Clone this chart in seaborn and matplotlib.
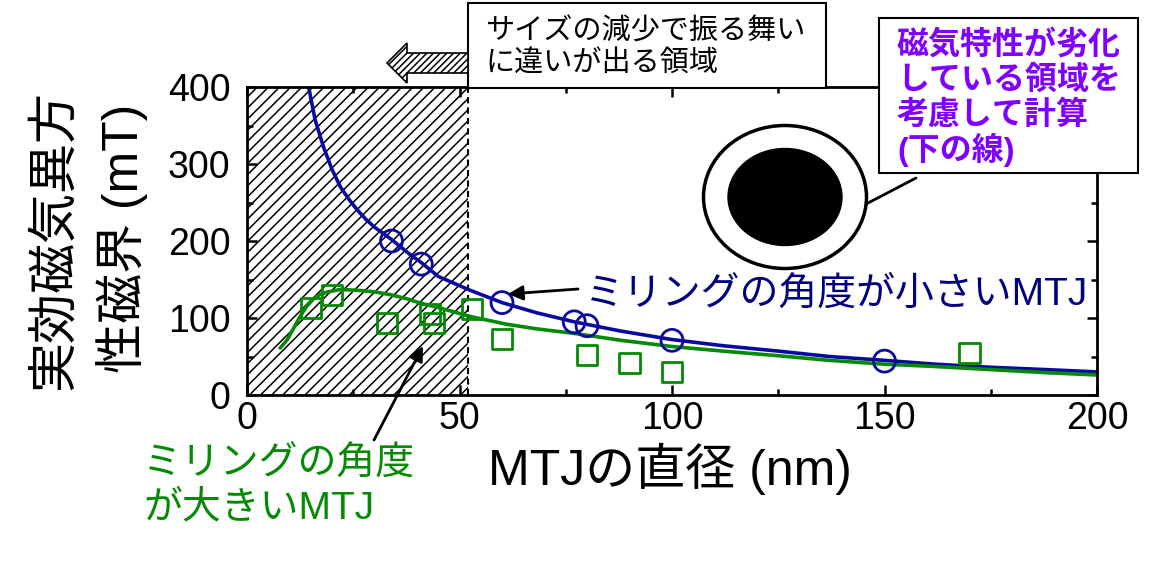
import numpy as np
import pandas as pd
import seaborn as sns
import matplotlib.pyplot as plt
from matplotlib.patches import Rectangle, Ellipse, Polygon
from matplotlib.ticker import MultipleLocator

# measured points: small milling angle (blue circles)
d_small = [34, 41, 60, 77, 80, 100, 150]
h_small = [200, 170, 120, 95, 90, 71, 44]

# measured points: large milling angle (green squares)
d_large = [15, 20, 33, 43, 44, 53, 60, 80, 90, 100, 170]
h_large = [113, 130, 93, 105, 94, 112, 73, 52, 42, 30, 55]

# calculated curves
d_calc_small = [14.4, 16, 18, 20, 22, 24, 26, 28, 30, 34, 38, 41, 45, 52.5, 60, 68, 77, 88, 100, 112, 125, 137, 150, 162, 175, 188, 200]
h_calc_small = [403, 358, 322, 293, 270, 254, 240, 228, 218, 202, 184, 172, 154, 136, 120, 107, 95, 83, 72, 64, 57, 50, 45, 40, 36, 33, 30]

d_calc_large = [7.8, 9.5, 11, 12.5, 14, 15.5, 17, 19, 22, 26, 30, 34, 37.6, 41, 45.4, 52.5, 61, 68, 77, 88, 100, 112, 125, 137, 150, 162, 175, 188, 200]
h_calc_large = [61, 72, 87, 102, 115, 124, 130, 134, 137, 136, 134, 130, 125, 119, 113, 102, 92, 86, 80, 71, 63, 57, 51, 45, 40, 37, 33, 29, 26]

hatched_limit = 52

blue = '#0A0AA0'
green = '#058A05'
purple = '#8000FF'

W, H = 1167, 575


def fx(x):
    return x / W


def fy(y):
    return 1 - y / H


sns.set_style('ticks')
plt.rcParams['font.family'] = ['Liberation Sans', 'Noto Sans CJK JP']
plt.rcParams['text.color'] = 'black'
plt.rcParams['axes.labelcolor'] = 'black'
plt.rcParams['hatch.linewidth'] = 1.1

fig = plt.figure(figsize=(W / 100, H / 100), dpi=100)
ax = fig.add_axes([fx(247), fy(395), 850 / W, 308 / H])

# region where behaviour changes with size
ax.axvspan(0, hatched_limit, facecolor='white', edgecolor='black', hatch='///', linewidth=0, zorder=0.5)
ax.axvline(hatched_limit, color='black', lw=1.5, dashes=(3, 2), zorder=0.6)

sns.lineplot(x=d_calc_small, y=h_calc_small, color=blue, lw=2.6, ax=ax, zorder=2)
sns.lineplot(x=d_calc_large, y=h_calc_large, color=green, lw=2.6, ax=ax, zorder=2)
sns.scatterplot(x=d_small, y=h_small, marker='o', s=250, facecolor='none', edgecolor=blue, linewidth=2, ax=ax, zorder=3)
sns.scatterplot(x=d_large, y=h_large, marker='s', s=210, facecolor='none', edgecolor=green, linewidth=2, ax=ax, zorder=3)

ax.set_xlim(0, 200)
ax.set_ylim(0, 400)
ax.xaxis.set_major_locator(MultipleLocator(50))
ax.xaxis.set_minor_locator(MultipleLocator(25))
ax.yaxis.set_major_locator(MultipleLocator(100))
ax.yaxis.set_minor_locator(MultipleLocator(50))
ax.tick_params(which='both', direction='in', top=True, right=True, width=1.8, labelsize=27, colors='black')
ax.tick_params(which='major', length=7)
ax.tick_params(which='minor', length=4)
ax.tick_params(axis='x', pad=4)
ax.tick_params(axis='y', pad=12)
for s in ax.spines.values():
    s.set_linewidth(2)
    s.set_color('black')
ax.set_xlabel('')
ax.set_ylabel('')

# axis titles
fig.text(fx(670), fy(485), 'MTJの直径 (nm)', fontsize=36, ha='center', va='baseline')
fig.text(fx(54), fy(240), '実効磁気異方', fontsize=36, rotation=90, ha='center', va='center')
fig.text(fx(122), fy(238), '性磁界 (mT)', fontsize=36, rotation=90, ha='center', va='center')

# top box with hatched arrow
fig.add_artist(Rectangle((fx(468), fy(88)), (826 - 468) / W, 85 / H, transform=fig.transFigure,
                         facecolor='white', edgecolor='black', lw=1.5, zorder=5))
fig.text(fx(485), fy(40), 'サイズの減少で振る舞い', fontsize=21, ha='left', va='baseline', zorder=6)
fig.text(fx(485), fy(72), 'に違いが出る領域', fontsize=21, ha='left', va='baseline', zorder=6)
arrow_px = [(387, 63), (407, 43), (407, 53), (468, 53), (468, 73), (407, 73), (407, 83)]
fig.add_artist(Polygon([(fx(x), fy(y)) for x, y in arrow_px], closed=True, transform=fig.transFigure,
                       facecolor='white', edgecolor='black', hatch='/////', lw=1.2, zorder=5))

# purple box
fig.add_artist(Rectangle((fx(879), fy(173)), (1138 - 879) / W, 155 / H, transform=fig.transFigure,
                         facecolor='white', edgecolor='black', lw=1.5, zorder=5))
for txt, yb in zip(['磁気特性が劣化', 'している領域を', '考慮して計算', '(下の線)'], [54, 89, 124, 160]):
    fig.text(fx(897), fy(yb), txt, fontsize=23, fontweight='bold', color=purple, ha='left', va='baseline', zorder=6)

# MTJ cross-section sketch
fig.add_artist(Ellipse((fx(785), fy(197)), 163 / W, 143 / H, transform=fig.transFigure,
                       facecolor='white', edgecolor='black', lw=2.5, zorder=4))
fig.add_artist(Ellipse((fx(785), fy(197)), 114 / W, 97 / H, transform=fig.transFigure,
                       facecolor='black', edgecolor='black', lw=1, zorder=4))

arrow = dict(arrowstyle='-|>', color='black', lw=2, mutation_scale=22, shrinkA=0, shrinkB=0)
ax.annotate('', xy=(fx(845), fy(215)), xytext=(fx(916), fy(178)), xycoords='figure fraction', arrowprops=arrow)
ax.annotate('', xy=(fx(508), fy(294)), xytext=(fx(578), fy(289)), xycoords='figure fraction', arrowprops=arrow)
ax.annotate('', xy=(fx(423), fy(346)), xytext=(fx(374), fy(440)), xycoords='figure fraction', arrowprops=arrow)

# series labels
fig.text(fx(585), fy(305), 'ミリングの角度が小さいMTJ', fontsize=28, color='#000080', ha='left', va='baseline')
fig.text(fx(143), fy(475), 'ミリングの角度', fontsize=28, color=green, ha='left', va='baseline')
fig.text(fx(143), fy(518), 'が大きいMTJ', fontsize=28, color=green, ha='left', va='baseline')

fig.savefig('out.png', dpi=100)
